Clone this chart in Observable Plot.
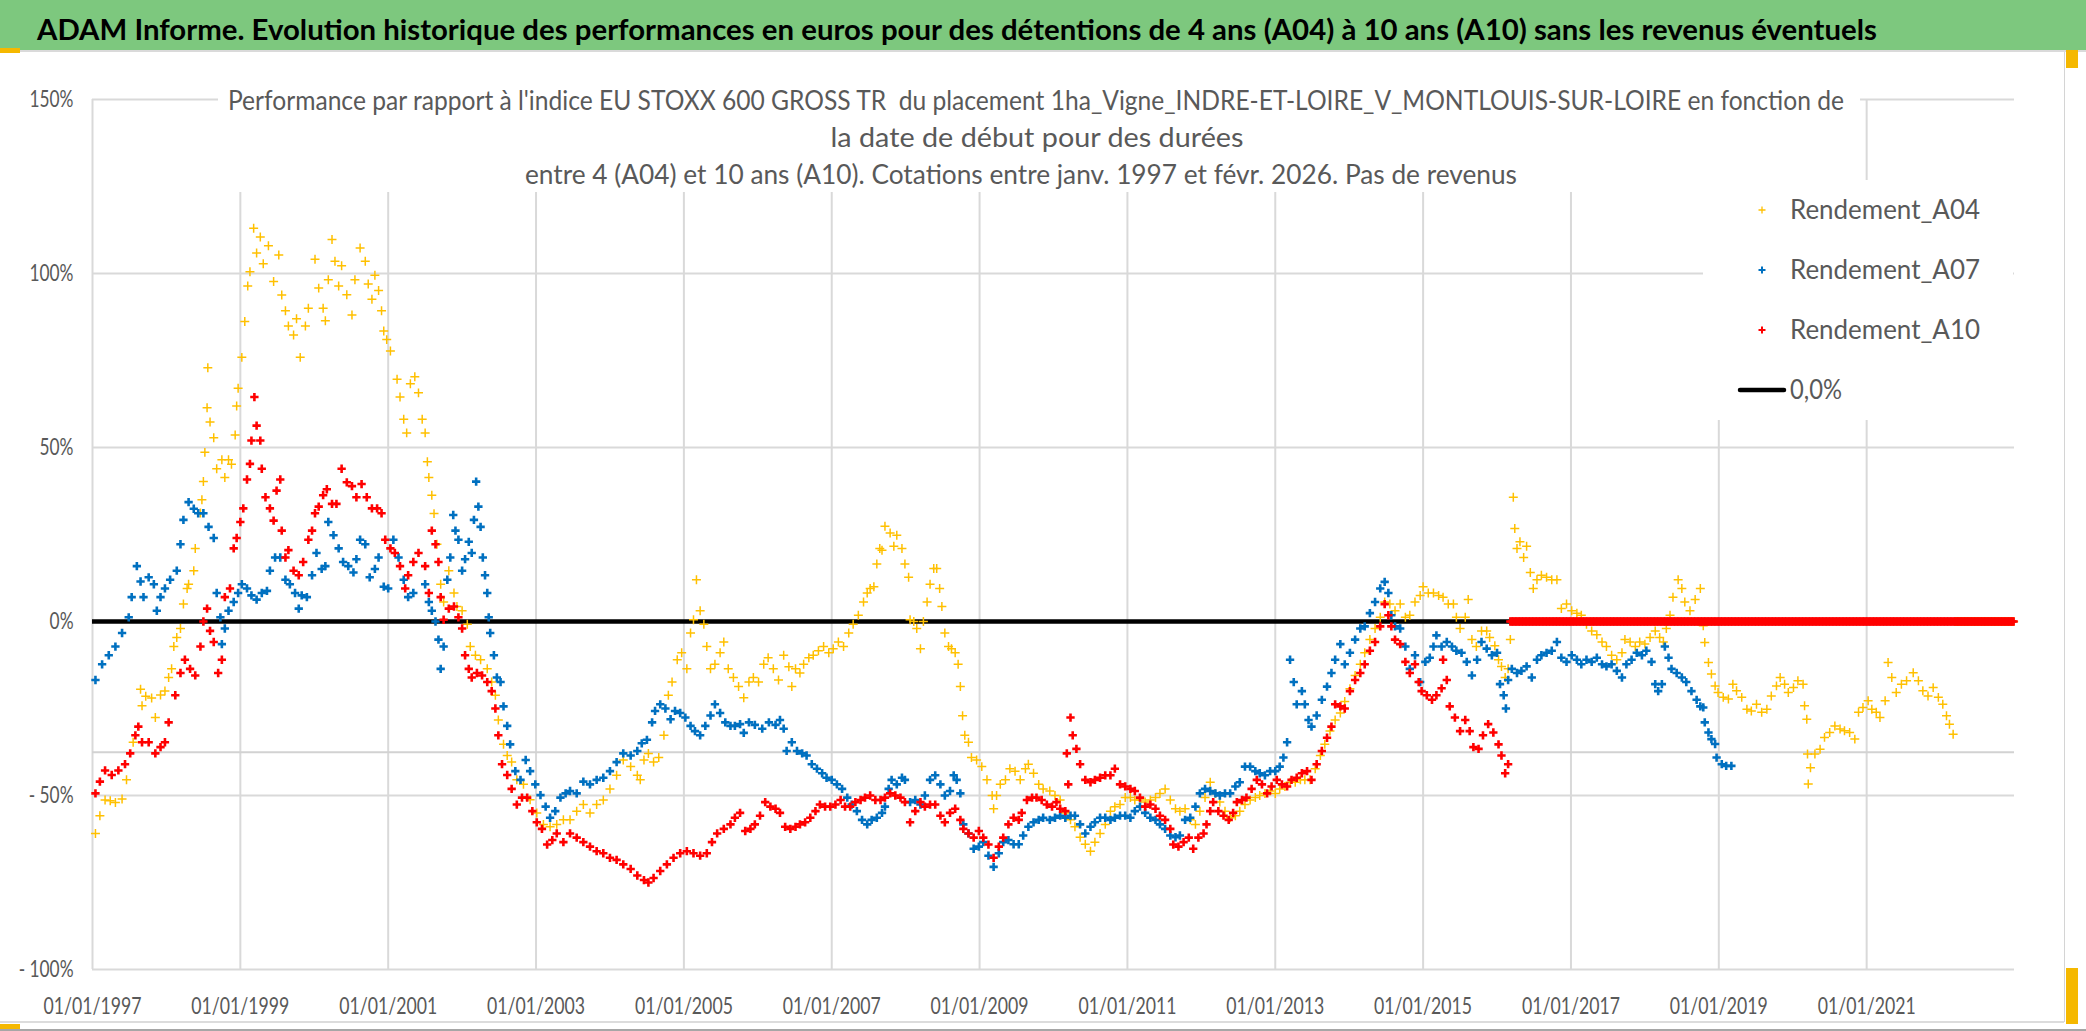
<!DOCTYPE html>
<html><head><meta charset="utf-8">
<script src="https://cdn.jsdelivr.net/npm/d3@7"></script>
<script src="https://cdn.jsdelivr.net/npm/@observablehq/plot@0.6"></script>
<style>
html,body{margin:0;padding:0;background:#fff;width:2086px;height:1031px;overflow:hidden;position:relative;}
#title{position:relative;height:50px;background:#7dc87e;border-bottom:2px solid #dadada;}
#tt{position:absolute;left:37px;top:12px;line-height:28px;font:bold 28px Lato,"Liberation Sans",sans-serif;color:#000;white-space:pre;transform-origin:0 0;}
#chart{position:relative;height:979px;}
.deco{position:absolute;}
</style></head><body>
<div id="title"><span id="tt"></span></div>
<div id="chart"></div>
<div class="deco" style="left:0;top:48px;width:20px;height:5px;background:#f5b800"></div>
<div class="deco" style="left:2064px;top:52px;width:1px;height:970px;background:#d4d4d4"></div>
<div class="deco" style="left:0;top:1021px;width:2064px;height:2px;background:#dcdcdc"></div>
<div class="deco" style="left:2066px;top:50px;width:12px;height:18px;background:#f5b800"></div>
<div class="deco" style="left:2066px;top:968px;width:12px;height:56px;background:#f5b800"></div>
<div class="deco" style="left:0;top:1024px;width:20px;height:6px;background:#f5b800"></div>
<div class="deco" style="left:0;top:1029px;width:2086px;height:2px;background:#a6a6a6"></div>
<script>
const titleText = "ADAM Informe. Evolution historique des performances en euros pour des détentions de 4 ans (A04) à 10 ans (A10) sans les revenus éventuels";
const subtitleLines = [
  "Performance par rapport à l'indice EU STOXX 600 GROSS TR  du placement 1ha_Vigne_INDRE-ET-LOIRE_V_MONTLOUIS-SUR-LOIRE en fonction de",
  "la date de début pour des durées",
  "entre 4 (A04) et 10 ans (A10). Cotations entre janv. 1997 et févr. 2026. Pas de revenus"
];
const seriesNames = ["Rendement_A04", "Rendement_A07", "Rendement_A10"];
const seriesColors = ["#FFC000", "#0070C0", "#FF0000"];
const zeroLineLabel = "0,0%";
const xTicks = [1997, 1999, 2001, 2003, 2005, 2007, 2009, 2011, 2013, 2015, 2017, 2019, 2021];
const yTicks = [-100, -50, 0, 50, 100, 150];
const refLine = -37.6;

// [year, performance %]
const a04 = [[1997.04,-60.9],[1997.10,-55.8],[1997.17,-51.3],[1997.24,-51.5],[1997.31,-52.0],[1997.40,-51.0],[1997.46,-45.5],[1997.55,-34.7],[1997.65,-19.5],[1997.67,-24.2],[1997.72,-21.5],[1997.80,-22.0],[1997.85,-27.6],[1997.92,-21.1],[1997.98,-20.0],[1998.03,-16.1],[1998.07,-13.6],[1998.10,-7.2],[1998.14,-4.6],[1998.19,-2.0],[1998.23,5.0],[1998.28,9.5],[1998.30,10.7],[1998.37,14.6],[1998.39,21.0],[1998.46,31.2],[1998.48,35.0],[1998.50,40.2],[1998.52,48.6],[1998.55,61.4],[1998.56,72.9],[1998.59,57.3],[1998.64,52.8],[1998.68,43.9],[1998.75,46.5],[1998.79,41.4],[1998.84,46.5],[1998.88,45.2],[1998.93,53.6],[1998.95,61.9],[1998.97,67.0],[1999.02,75.9],[1999.06,86.2],[1999.10,96.4],[1999.13,100.5],[1999.18,113.0],[1999.22,105.9],[1999.27,110.5],[1999.31,102.8],[1999.38,108.0],[1999.45,97.7],[1999.52,105.3],[1999.56,93.8],[1999.61,89.3],[1999.65,84.9],[1999.72,82.3],[1999.76,87.0],[1999.81,75.9],[1999.88,84.9],[1999.92,90.0],[2000.01,104.1],[2000.06,95.8],[2000.12,90.0],[2000.15,86.4],[2000.19,98.2],[2000.24,109.8],[2000.28,103.5],[2000.33,96.4],[2000.37,102.2],[2000.44,93.9],[2000.51,88.1],[2000.55,98.2],[2000.62,107.3],[2000.69,103.5],[2000.73,97.0],[2000.78,92.6],[2000.82,99.5],[2000.87,95.1],[2000.91,89.3],[2000.94,83.5],[2000.98,81.0],[2001.03,77.7],[2001.12,69.6],[2001.16,64.5],[2001.21,58.1],[2001.25,54.2],[2001.30,68.3],[2001.36,70.3],
[2001.41,65.7],[2001.46,58.1],[2001.50,54.2],[2001.53,45.9],[2001.55,41.4],[2001.59,36.3],[2001.62,31.0],[2001.66,22.2],[2001.71,10.7],[2001.75,5.6],[2001.82,14.6],[2001.89,8.2],[2001.93,4.3],[2002.00,3.1],[2002.07,-0.8],[2002.11,-7.2],[2002.18,-9.7],[2002.25,-11.0],[2002.34,-13.6],[2002.40,-17.4],[2002.45,-21.2],[2002.49,-28.3],[2002.56,-35.3],[2002.61,-38.5],[2002.67,-40.4],[2002.74,-45.5],[2002.83,-46.8],[2002.92,-51.2],[2003.01,-55.0],[2003.10,-58.3],[2003.19,-59.0],[2003.28,-58.3],[2003.37,-57.0],[2003.46,-57.0],[2003.55,-54.5],[2003.64,-52.6],[2003.73,-55.0],[2003.82,-52.6],[2003.91,-51.3],[2004.00,-48.1],[2004.09,-44.2],[2004.18,-39.8],[2004.28,-41.7],[2004.37,-44.2],[2004.41,-45.5],[2004.46,-39.8],[2004.52,-37.9],[2004.59,-40.4],[2004.66,-39.1],[2004.73,-32.7],[2004.79,-21.2],[2004.84,-17.4],[2004.91,-11.0],[2004.97,-9.0],[2005.04,-13.6],[2005.09,-3.3],[2005.13,0.5],[2005.17,12.0],[2005.22,3.1],[2005.27,-0.8],[2005.31,-7.2],[2005.36,-13.6],[2005.42,-12.3],[2005.49,-9.0],[2005.54,-5.9],[2005.60,-13.6],[2005.67,-16.1],[2005.74,-18.7],
[2005.81,-21.9],[2005.88,-17.4],[2005.94,-16.1],[2006.01,-17.4],[2006.08,-12.3],[2006.14,-10.4],[2006.21,-13.6],[2006.28,-16.8],[2006.35,-9.7],[2006.42,-13.0],[2006.46,-18.7],[2006.51,-13.6],[2006.57,-14.8],[2006.62,-12.3],[2006.69,-10.4],[2006.75,-9.7],[2006.82,-8.4],[2006.89,-7.2],[2006.96,-9.0],[2007.02,-7.8],[2007.09,-5.9],[2007.16,-7.2],[2007.23,-3.3],[2007.29,-0.8],[2007.36,1.8],[2007.43,5.6],[2007.48,8.2],[2007.52,9.5],[2007.57,10.0],[2007.61,16.5],[2007.65,21.0],[2007.68,20.5],[2007.72,27.4],[2007.79,25.4],[2007.84,21.6],[2007.88,24.8],[2007.95,21.0],[2007.99,16.5],[2008.04,12.7],[2008.06,0.5],[2008.11,0.0],[2008.15,-2.0],[2008.20,-7.8],[2008.24,0.0],[2008.29,5.6],[2008.33,10.7],[2008.38,15.2],[2008.42,15.2],[2008.46,9.5],[2008.49,4.3],[2008.53,-3.3],[2008.58,-7.2],[2008.62,-7.8],[2008.67,-9.0],[2008.71,-12.3],[2008.74,-18.7],[2008.77,-27.1],[2008.80,-32.7],[2008.85,-34.7],[2008.89,-39.1],[2008.96,-39.8],[2009.03,-41.7],[2009.10,-45.5],[2009.17,-50.0],[2009.19,-53.8],[2009.23,-50.0],[2009.28,-46.8],[2009.35,-45.5],[2009.41,-42.3],[2009.48,-43.0],[2009.55,-45.5],[2009.62,-42.3],[2009.66,-41.0],[2009.73,-43.6],[2009.80,-46.8],[2009.86,-48.1],[2009.95,-48.7],[2010.02,-50.0],[2010.09,-51.3],
[2010.16,-55.0],[2010.23,-57.0],[2010.29,-59.0],[2010.36,-62.0],[2010.43,-64.0],[2010.50,-66.0],[2010.56,-63.4],[2010.63,-60.9],[2010.70,-58.3],[2010.77,-54.5],[2010.83,-53.2],[2010.90,-52.6],[2010.97,-50.6],[2011.04,-50.6],[2011.10,-51.3],[2011.17,-51.3],[2011.24,-51.9],[2011.31,-51.3],[2011.38,-50.6],[2011.44,-49.4],[2011.51,-48.1],[2011.58,-51.3],[2011.65,-53.8],[2011.71,-54.5],[2011.78,-53.8],[2011.85,-57.0],[2011.92,-58.3],[2011.98,-54.5],[2012.05,-50.6],[2012.12,-46.2],[2012.19,-49.4],[2012.25,-51.9],[2012.32,-54.5],[2012.39,-56.4],[2012.46,-55.8],[2012.52,-54.5],[2012.59,-52.6],[2012.66,-51.3],[2012.73,-50.6],[2012.79,-50.0],[2012.86,-49.4],[2012.93,-48.7],[2013.00,-49.4],[2013.06,-48.1],[2013.13,-47.4],[2013.20,-46.2],[2013.27,-46.2],[2013.34,-45.5],[2013.40,-45.5],[2013.47,-45.5],[2013.54,-42.3],[2013.61,-38.5],[2013.67,-35.3],[2013.74,-31.5],[2013.81,-28.3],[2013.88,-26.3],[2013.94,-23.0],[2014.01,-19.3],[2014.08,-15.5],[2014.15,-12.3],[2014.21,-9.0],[2014.28,-5.2],[2014.35,-2.0],[2014.42,1.2],
[2014.48,5.6],[2014.55,5.0],[2014.62,3.1],[2014.69,5.0],[2014.76,1.2],[2014.82,1.8],[2014.89,5.6],[2014.96,7.5],[2015.00,10.0],[2015.07,8.2],[2015.14,8.2],[2015.21,7.5],[2015.27,7.0],[2015.34,5.0],[2015.41,5.0],[2015.45,1.2],[2015.50,-2.0],[2015.57,1.2],[2015.61,6.3],[2015.66,-5.2],[2015.72,-7.2],[2015.79,-2.7],[2015.86,-2.7],[2015.90,-4.6],[2015.97,-7.0],[2016.02,-11.0],[2016.06,-12.9],[2016.11,-16.1],[2016.15,-13.6],[2016.18,-5.2],[2016.22,35.7],[2016.24,26.7],[2016.27,21.0],[2016.31,22.9],[2016.36,18.4],[2016.40,21.6],[2016.45,14.1],[2016.49,9.5],[2016.54,12.0],[2016.60,13.3],[2016.67,12.7],[2016.74,12.0],[2016.81,12.0],[2016.87,3.7],[2016.94,5.0],[2017.01,3.1],[2017.08,2.4],[2017.14,1.8],[2017.21,-0.8],[2017.28,-2.7],[2017.35,-3.8],[2017.42,-5.9],[2017.48,-7.2],[2017.55,-9.7],[2017.62,-11.0],[2017.69,-9.0],[2017.73,-5.2],[2017.80,-5.9],[2017.87,-7.2],[2017.93,-5.9],[2018.00,-6.5],[2018.07,-4.6],[2018.14,-2.7],[2018.20,-4.6],[2018.25,-5.9],[2018.29,-2.0],[2018.34,1.8],[2018.38,7.0],[2018.45,12.0],[2018.50,9.5],[2018.54,5.6],[2018.61,3.1],[2018.68,6.3],[2018.75,9.5],
[2018.79,-1.2],[2018.81,-6.0],[2018.86,-11.8],[2018.90,-15.1],[2018.95,-18.5],[2018.99,-20.4],[2019.06,-21.8],[2019.13,-22.3],[2019.19,-18.0],[2019.24,-19.9],[2019.31,-21.8],[2019.38,-25.2],[2019.44,-25.7],[2019.51,-23.8],[2019.58,-26.1],[2019.65,-25.2],[2019.71,-21.4],[2019.78,-18.5],[2019.83,-16.1],[2019.89,-18.0],[2019.94,-20.4],[2020.01,-19.0],[2020.07,-17.0],[2020.14,-18.0],[2020.16,-24.2],[2020.19,-28.1],[2020.20,-38.1],[2020.21,-46.7],[2020.24,-42.0],[2020.30,-38.1],[2020.37,-36.7],[2020.43,-33.3],[2020.50,-31.9],[2020.57,-30.0],[2020.64,-30.9],[2020.70,-31.4],[2020.77,-31.9],[2020.84,-33.8],[2020.89,-26.1],[2020.95,-24.7],[2021.02,-22.8],[2021.07,-25.2],[2021.13,-26.1],[2021.18,-27.6],[2021.25,-22.8],[2021.29,-11.8],[2021.34,-16.1],[2021.40,-20.4],[2021.47,-18.0],[2021.54,-17.0],[2021.63,-14.7],[2021.70,-17.0],[2021.76,-19.9],[2021.83,-21.4],[2021.90,-19.0],[2021.97,-21.8],[2022.03,-23.8],[2022.08,-27.1],[2022.12,-29.5],[2022.17,-32.4]];

const a07 = [[1997.04,-16.8],[1997.13,-12.3],[1997.22,-9.7],[1997.31,-7.2],[1997.40,-3.3],[1997.49,1.2],[1997.53,7.0],[1997.60,15.9],[1997.65,11.5],[1997.69,7.0],[1997.76,12.7],[1997.83,10.7],[1997.87,3.1],[1997.92,7.0],[1997.98,9.5],[1998.05,12.0],[1998.14,14.6],[1998.19,22.2],[1998.23,29.2],[1998.30,34.3],[1998.37,32.4],[1998.43,31.1],[1998.50,31.1],[1998.57,27.2],[1998.64,24.0],[1998.68,8.2],[1998.73,1.2],[1998.75,-6.5],[1998.79,-2.0],[1998.84,3.1],[1998.91,5.6],[1998.97,8.2],[1999.02,10.7],[1999.09,9.5],[1999.15,7.5],[1999.22,6.3],[1999.29,8.2],[1999.36,8.8],[1999.40,14.6],[1999.47,18.4],[1999.54,18.4],[1999.61,12.0],[1999.67,10.7],[1999.74,8.2],[1999.79,3.7],[1999.83,7.5],[1999.90,7.0],[1999.97,13.3],[2000.03,19.7],[2000.10,15.1],[2000.15,15.9],[2000.19,28.6],[2000.26,24.8],[2000.33,21.0],[2000.39,17.1],[2000.46,15.9],[2000.53,14.1],[2000.57,17.9],[2000.62,23.5],[2000.69,22.2],[2000.75,12.7],[2000.82,15.1],[2000.87,18.4],[2000.94,10.0],[2001.00,9.5],[2001.07,23.5],[2001.14,18.4],[2001.21,12.0],[2001.27,7.0],[2001.34,8.2],
[2001.50,10.7],[2001.55,5.6],[2001.59,3.1],[2001.64,0.0],[2001.68,-5.2],[2001.71,-13.6],[2001.75,-7.2],[2001.80,12.0],[2001.84,18.4],[2001.88,30.6],[2001.91,26.1],[2001.95,23.5],[2002.00,14.6],[2002.04,17.9],[2002.09,22.9],[2002.13,19.7],[2002.16,29.2],[2002.19,40.2],[2002.22,33.0],[2002.25,27.2],[2002.28,18.4],[2002.31,13.3],[2002.34,8.2],[2002.36,1.2],[2002.38,-3.3],[2002.43,-9.7],[2002.47,-16.1],[2002.52,-17.4],[2002.56,-24.4],[2002.61,-30.0],[2002.65,-35.3],[2002.72,-43.0],[2002.79,-45.5],[2002.86,-39.8],[2002.92,-43.0],[2002.99,-46.8],[2003.06,-49.9],[2003.13,-53.2],[2003.19,-56.4],[2003.26,-54.5],[2003.33,-50.6],[2003.40,-49.4],[2003.46,-48.7],[2003.55,-49.4],[2003.64,-46.0],[2003.73,-46.8],[2003.82,-45.5],[2003.91,-44.9],[2004.00,-43.0],[2004.09,-40.4],[2004.18,-37.9],[2004.28,-38.5],[2004.37,-37.2],[2004.43,-35.0],[2004.50,-34.0],[2004.57,-29.0],[2004.61,-25.7],[2004.68,-23.8],[2004.75,-25.0],[2004.82,-28.1],[2004.88,-25.7],[2004.95,-26.3],[2005.02,-27.6],[2005.09,-30.0],[2005.15,-31.5],[2005.22,-32.7],[2005.29,-30.0],[2005.36,-27.0],[2005.42,-23.8],[2005.49,-26.3],[2005.56,-29.0],[2005.63,-30.0],[2005.69,-30.0],[2005.76,-29.5],
[2005.81,-32.0],[2005.88,-29.0],[2005.96,-29.7],[2006.06,-30.8],[2006.15,-29.0],[2006.24,-29.7],[2006.30,-28.3],[2006.35,-30.8],[2006.39,-37.2],[2006.46,-34.7],[2006.53,-37.2],[2006.60,-37.9],[2006.66,-38.5],[2006.73,-41.0],[2006.80,-42.3],[2006.87,-43.6],[2006.93,-44.9],[2007.00,-45.5],[2007.07,-46.8],[2007.14,-48.1],[2007.21,-50.6],[2007.27,-52.6],[2007.34,-54.5],[2007.41,-57.0],[2007.48,-58.3],[2007.54,-57.0],[2007.61,-56.4],[2007.68,-55.0],[2007.72,-53.2],[2007.77,-48.1],[2007.81,-45.5],[2007.88,-46.8],[2007.95,-44.9],[2007.99,-45.5],[2008.06,-51.9],[2008.13,-51.3],[2008.20,-52.6],[2008.26,-50.0],[2008.33,-45.5],[2008.40,-44.2],[2008.47,-46.8],[2008.53,-50.0],[2008.60,-48.7],[2008.65,-44.2],[2008.69,-45.5],[2008.74,-49.4],[2008.78,-58.3],[2008.85,-60.9],[2008.92,-65.3],[2008.99,-64.7],[2009.05,-63.4],[2009.12,-67.3],[2009.19,-70.5],[2009.26,-66.6],[2009.32,-63.4],[2009.39,-62.8],[2009.46,-64.0],[2009.53,-64.0],[2009.59,-61.5],[2009.66,-59.0],[2009.73,-57.7],[2009.80,-57.0],[2009.86,-56.4],[2009.95,-57.0],[2010.02,-56.4],[2010.09,-55.8],
[2010.16,-56.4],[2010.23,-55.8],[2010.29,-55.8],[2010.36,-58.3],[2010.43,-60.9],[2010.50,-59.0],[2010.56,-57.7],[2010.63,-56.4],[2010.70,-56.4],[2010.77,-57.0],[2010.83,-56.4],[2010.90,-55.8],[2010.97,-55.8],[2011.04,-56.4],[2011.10,-54.5],[2011.17,-53.2],[2011.24,-55.0],[2011.31,-56.4],[2011.38,-57.0],[2011.44,-58.3],[2011.51,-59.6],[2011.58,-61.5],[2011.65,-62.0],[2011.71,-61.5],[2011.78,-57.0],[2011.85,-56.4],[2011.92,-53.2],[2011.98,-49.4],[2012.05,-48.1],[2012.12,-48.7],[2012.19,-49.4],[2012.25,-50.0],[2012.32,-49.4],[2012.39,-49.4],[2012.46,-47.4],[2012.52,-46.2],[2012.59,-41.7],[2012.66,-41.7],[2012.73,-43.0],[2012.79,-43.6],[2012.86,-44.2],[2012.93,-43.0],[2013.00,-43.0],[2013.06,-41.7],[2013.11,-39.1],[2013.16,-34.7],[2013.20,-11.0],[2013.25,-17.4],[2013.29,-23.8],[2013.36,-20.0],[2013.40,-23.8],[2013.45,-28.3],[2013.49,-30.2],[2013.56,-27.0],[2013.63,-22.5],[2013.70,-18.7],[2013.76,-14.8],[2013.81,-11.0],[2013.88,-6.5],[2013.94,-12.3],[2014.01,-9.0],[2014.08,-5.2],[2014.15,-2.0],[2014.21,-1.4],[2014.28,2.4],[2014.35,5.6],[2014.42,9.5],
[2014.48,11.4],[2014.53,8.2],[2014.57,1.8],[2014.62,-1.4],[2014.69,-2.0],[2014.76,-7.2],[2014.82,-13.6],[2014.89,-9.7],[2014.96,-17.4],[2015.03,-11.6],[2015.09,-10.4],[2015.14,-7.2],[2015.18,-4.0],[2015.25,-7.2],[2015.32,-5.9],[2015.39,-7.2],[2015.45,-8.4],[2015.52,-9.0],[2015.59,-11.6],[2015.66,-15.5],[2015.73,-11.0],[2015.79,-5.9],[2015.86,-7.8],[2015.93,-9.7],[2016.00,-9.0],[2016.04,-18.0],[2016.09,-21.2],[2016.12,-25.0],[2016.15,-16.8],[2016.20,-13.6],[2016.27,-14.8],[2016.33,-14.2],[2016.40,-12.9],[2016.47,-16.1],[2016.54,-11.0],[2016.60,-9.7],[2016.67,-9.0],[2016.74,-8.4],[2016.81,-5.9],[2016.87,-10.4],[2016.94,-11.6],[2017.01,-9.7],[2017.08,-11.0],[2017.14,-12.3],[2017.21,-11.0],[2017.28,-11.6],[2017.35,-10.4],[2017.42,-12.3],[2017.48,-12.9],[2017.55,-12.3],[2017.62,-14.2],[2017.69,-16.1],[2017.75,-12.3],[2017.82,-11.0],[2017.89,-9.0],[2017.96,-9.7],[2018.02,-8.4],[2018.09,-11.6],[2018.14,-18.0],[2018.18,-20.0],[2018.23,-18.0],[2018.27,-7.2],[2018.32,-10.4],[2018.36,-13.6],[2018.43,-14.8],[2018.50,-16.1],[2018.56,-17.4],[2018.63,-20.0],[2018.70,-22.5],[2018.75,-24.4],
[2018.79,-24.7],[2018.81,-29.0],[2018.86,-31.9],[2018.90,-33.8],[2018.95,-35.2],[2018.97,-39.1],[2019.04,-41.0],[2019.10,-41.5],[2019.17,-41.5]];

const a10 = [[1997.04,-49.4],[1997.10,-46.0],[1997.17,-42.8],[1997.26,-44.1],[1997.35,-42.8],[1997.44,-41.0],[1997.51,-37.9],[1997.58,-32.7],[1997.62,-30.2],[1997.67,-34.7],[1997.76,-34.7],[1997.85,-37.9],[1997.92,-36.1],[1997.98,-34.7],[1998.03,-29.0],[1998.12,-21.2],[1998.19,-14.8],[1998.25,-11.0],[1998.32,-13.6],[1998.39,-15.5],[1998.46,-7.2],[1998.50,0.0],[1998.55,3.7],[1998.59,-2.7],[1998.64,-5.9],[1998.70,-14.8],[1998.75,-11.0],[1998.79,7.0],[1998.86,9.5],[1998.91,21.0],[1998.95,24.0],[1999.00,28.6],[1999.04,32.5],[1999.09,40.8],[1999.13,45.3],[1999.15,52.0],[1999.19,64.5],[1999.22,56.3],[1999.27,52.0],[1999.29,43.9],[1999.34,35.7],[1999.40,32.5],[1999.45,29.0],[1999.49,37.6],[1999.54,40.8],[1999.56,26.1],[1999.61,18.4],[1999.65,20.5],[1999.72,14.6],[1999.79,13.3],[1999.85,17.1],[1999.92,23.5],[1999.97,26.1],[2000.01,31.1],[2000.06,33.0],[2000.12,36.3],[2000.17,38.0],[2000.24,33.8],[2000.30,33.8],[2000.37,43.9],[2000.44,40.0],[2000.51,38.9],[2000.57,35.7],[2000.64,39.5],[2000.71,35.7],[2000.78,32.5],[2000.85,32.5],[2000.91,31.1],[2000.96,23.5],[2001.03,21.0],[2001.09,19.7],[2001.16,15.9],[2001.23,9.5],[2001.27,13.3],[2001.34,17.1],[2001.41,19.7],
[2001.50,15.9],[2001.55,8.2],[2001.59,26.1],[2001.64,22.2],[2001.68,17.1],[2001.71,7.0],[2001.75,0.5],[2001.82,3.7],[2001.89,4.3],[2001.95,1.2],[2002.00,-2.0],[2002.04,-9.7],[2002.09,-13.6],[2002.13,-16.1],[2002.20,-14.8],[2002.27,-15.5],[2002.34,-17.4],[2002.40,-20.0],[2002.45,-25.0],[2002.49,-32.7],[2002.54,-41.0],[2002.61,-44.1],[2002.67,-48.1],[2002.74,-52.6],[2002.81,-50.6],[2002.88,-50.6],[2002.95,-54.5],[2003.01,-57.7],[2003.08,-59.6],[2003.15,-64.1],[2003.22,-62.8],[2003.28,-60.9],[2003.37,-63.4],[2003.46,-60.9],[2003.55,-62.1],[2003.64,-63.4],[2003.73,-64.7],[2003.82,-66.0],[2003.91,-66.6],[2004.00,-67.9],[2004.09,-68.5],[2004.18,-69.8],[2004.28,-71.1],[2004.37,-73.0],[2004.46,-74.3],[2004.52,-75.0],[2004.59,-73.7],[2004.68,-71.7],[2004.77,-69.8],[2004.86,-67.9],[2004.95,-66.6],[2005.04,-66.0],[2005.13,-66.6],[2005.22,-67.3],[2005.31,-66.6],[2005.38,-63.4],[2005.45,-60.9],[2005.54,-59.6],[2005.63,-58.3],[2005.69,-56.4],[2005.76,-55.0],
[2005.83,-60.2],[2005.90,-59.6],[2005.96,-58.3],[2006.03,-55.8],[2006.10,-51.9],[2006.17,-53.2],[2006.24,-53.8],[2006.30,-55.0],[2006.37,-59.0],[2006.44,-59.6],[2006.51,-59.0],[2006.57,-58.3],[2006.64,-57.7],[2006.71,-56.4],[2006.78,-54.5],[2006.84,-52.6],[2006.91,-53.2],[2006.98,-53.2],[2007.05,-52.6],[2007.12,-51.3],[2007.18,-53.2],[2007.25,-53.2],[2007.32,-51.9],[2007.39,-51.3],[2007.45,-50.6],[2007.52,-50.0],[2007.59,-51.3],[2007.66,-51.3],[2007.72,-50.6],[2007.79,-49.4],[2007.86,-50.0],[2007.93,-50.6],[2007.99,-51.9],[2008.06,-57.7],[2008.13,-54.5],[2008.20,-51.9],[2008.26,-53.2],[2008.33,-52.6],[2008.40,-52.6],[2008.47,-55.8],[2008.53,-57.7],[2008.60,-55.0],[2008.67,-53.8],[2008.74,-57.0],[2008.78,-59.6],[2008.85,-60.9],[2008.92,-62.1],[2008.99,-60.2],[2009.05,-62.1],[2009.12,-64.1],[2009.19,-67.9],[2009.26,-64.7],[2009.32,-62.1],[2009.39,-58.3],[2009.46,-56.4],[2009.53,-57.0],[2009.57,-55.0],[2009.64,-51.3],[2009.71,-50.6],[2009.77,-50.6],[2009.84,-51.3],[2009.91,-52.6],[2009.98,-53.2],[2010.04,-51.9],
[2010.09,-53.8],[2010.16,-54.5],[2010.18,-37.9],[2010.20,-46.8],[2010.23,-27.6],[2010.26,-32.7],[2010.31,-36.6],[2010.36,-41.0],[2010.43,-45.5],[2010.50,-46.2],[2010.56,-45.5],[2010.63,-44.9],[2010.70,-44.2],[2010.77,-44.2],[2010.83,-42.3],[2010.90,-46.8],[2010.97,-47.4],[2011.04,-48.1],[2011.10,-48.7],[2011.17,-50.6],[2011.24,-53.2],[2011.31,-52.6],[2011.38,-53.8],[2011.44,-55.8],[2011.51,-57.0],[2011.58,-59.6],[2011.62,-64.1],[2011.69,-64.7],[2011.76,-63.4],[2011.83,-62.1],[2011.89,-65.3],[2011.96,-62.1],[2012.03,-60.9],[2012.07,-58.3],[2012.12,-54.5],[2012.16,-51.9],[2012.23,-54.5],[2012.30,-55.8],[2012.37,-57.0],[2012.43,-55.0],[2012.48,-51.9],[2012.55,-51.3],[2012.61,-50.6],[2012.68,-48.1],[2012.75,-45.5],[2012.82,-46.8],[2012.89,-49.4],[2012.95,-47.4],[2013.02,-45.5],[2013.09,-46.8],[2013.16,-47.4],[2013.22,-45.5],[2013.29,-44.9],[2013.36,-43.6],[2013.43,-43.0],[2013.49,-45.5],[2013.56,-41.0],[2013.63,-37.2],[2013.70,-33.4],[2013.76,-30.2],[2013.81,-23.8],[2013.88,-24.4],[2013.94,-25.0],[2014.01,-20.0],[2014.08,-16.8],[2014.15,-14.8],[2014.21,-12.3],[2014.28,-8.4],[2014.35,-5.9],[2014.42,-1.4],
[2014.48,5.0],[2014.53,1.8],[2014.57,-1.4],[2014.62,-5.2],[2014.69,-6.5],[2014.76,-11.6],[2014.82,-14.8],[2014.89,-12.3],[2014.94,-17.4],[2014.98,-20.0],[2015.05,-21.2],[2015.12,-22.5],[2015.18,-21.2],[2015.25,-19.2],[2015.27,-11.0],[2015.32,-16.8],[2015.36,-24.4],[2015.43,-27.6],[2015.50,-31.5],[2015.57,-28.3],[2015.63,-31.5],[2015.68,-36.1],[2015.75,-36.6],[2015.81,-32.7],[2015.88,-29.5],[2015.95,-31.9],[2016.02,-35.3],[2016.06,-38.5],[2016.11,-43.6],[2016.15,-41.0]];

// Runs where the chart shows the series sitting flat at 0 % (start, end year)
const a04ZeroRun = [2022.2, 2023.0];
const a10ZeroRun = [2016.18, 2023.0];

const zeroPoints = ([from, to]) => d3.range(from, to, 1 / 52).map(year => [year, 0]);
const rows = arr => arr.map(([year, value]) => ({year, value}));
const d04 = rows(a04.concat(zeroPoints(a04ZeroRun)));
const d07 = rows(a07);
const d10 = rows(a10.concat(zeroPoints(a10ZeroRun)));

document.getElementById("tt").textContent = titleText;

const fmtY = d => d < 0 ? "- " + (-d) + "%" : d + "%";
const fmtX = d => "01/01/" + d;
const FONT = "Lato, 'Liberation Sans', sans-serif";

const plot = Plot.plot({
  width: 2086, height: 979,
  marginLeft: 92, marginRight: 72, marginTop: 47, marginBottom: 62,
  style: {fontFamily: FONT, background: "transparent", color: "#595959", overflow: "visible"},
  x: {domain: [1997, 2023], label: null},
  y: {domain: [-100, 150], label: null},
  marks: [
    Plot.ruleY(yTicks, {stroke: "#d9d9d9", strokeWidth: 2}),
    Plot.ruleX(xTicks, {stroke: "#d9d9d9", strokeWidth: 2}),
    Plot.ruleY([refLine], {stroke: "#d2d2d2", strokeWidth: 2}),
    Plot.axisX(xTicks, {tickFormat: fmtX, tickSize: 0, tickPadding: 28, fontSize: 23, label: null}),
    Plot.axisY(yTicks, {tickFormat: fmtY, tickSize: 0, tickPadding: 19, fontSize: 23, label: null}),
    Plot.ruleY([0], {stroke: "#000", strokeWidth: 4.5}),
    Plot.dot(d04, {x: "year", y: "value", symbol: "plus", r: 3, fill: "none", stroke: seriesColors[0], strokeWidth: 1.5}),
    Plot.dot(d07, {x: "year", y: "value", symbol: "plus", r: 2.8, fill: "none", stroke: seriesColors[1], strokeWidth: 2.6}),
    Plot.dot(d10, {x: "year", y: "value", symbol: "plus", r: 2.8, fill: "none", stroke: seriesColors[2], strokeWidth: 2.6})
  ]
});
document.getElementById("chart").appendChild(plot);

const svg = d3.select(plot);
function fit(el, w) { el.setAttribute("textLength", w); el.setAttribute("lengthAdjust", "spacingAndGlyphs"); }

// axis label widths (narrow chart font)
svg.selectAll("g[aria-label='x-axis tick label'] text").each(function() { fit(this, 98); });
const yTexts = svg.selectAll("g[aria-label='y-axis tick label'] text").nodes();
if (yTexts.length) {
  const ref = yTexts.find(t => t.textContent === "150%") || yTexts[0];
  const k = 44 / ref.getComputedTextLength();
  yTexts.forEach(t => fit(t, t.getComputedTextLength() * k));
}

// subtitle block (white box hides grid)
svg.append("rect").attr("x", 218).attr("y", 28).attr("width", 1642).attr("height", 112).attr("fill", "#fff");
const subPos = [[1036, 49, 1616], [1037, 86, 413], [1021, 123, 992]];
subtitleLines.forEach((s, i) => {
  const t = svg.append("text").attr("x", subPos[i][0]).attr("y", subPos[i][1]).attr("dy", "0.35em")
    .attr("text-anchor", "middle").attr("fill", "#595959").attr("font-size", 27)
    .attr("font-family", FONT).style("white-space", "pre").text(s);
  fit(t.node(), subPos[i][2]);
});

// legend
svg.append("rect").attr("x", 1703).attr("y", 128).attr("width", 310).attr("height", 240).attr("fill", "#fff");
const legendRows = seriesNames.map((n, i) => ({n, c: seriesColors[i], y: 158 + 60 * i}));
legendRows.forEach((r, i) => {
  svg.append("path").attr("d", "M1758.5," + r.y + "h7M1762," + (r.y - 3.5) + "v7")
    .attr("stroke", r.c).attr("stroke-width", i === 0 ? 1.3 : 2).attr("fill", "none");
  const t = svg.append("text").attr("x", 1790).attr("y", r.y).attr("dy", "0.35em")
    .attr("text-anchor", "start").attr("fill", "#595959").attr("font-size", 26)
    .attr("font-family", FONT).text(r.n);
  fit(t.node(), 190);
});
svg.append("line").attr("x1", 1740).attr("x2", 1784).attr("y1", 338).attr("y2", 338)
  .attr("stroke", "#000").attr("stroke-width", 4.5).attr("stroke-linecap", "round");
const zt = svg.append("text").attr("x", 1790).attr("y", 338).attr("dy", "0.35em")
  .attr("text-anchor", "start").attr("fill", "#595959").attr("font-size", 26)
  .attr("font-family", FONT).text(zeroLineLabel);
fit(zt.node(), 52);

// title fit
const tt = document.getElementById("tt");
const tw = tt.getBoundingClientRect().width;
tt.style.transform = "scaleX(" + (1840 / tw) + ")";
</script>
</body></html>
